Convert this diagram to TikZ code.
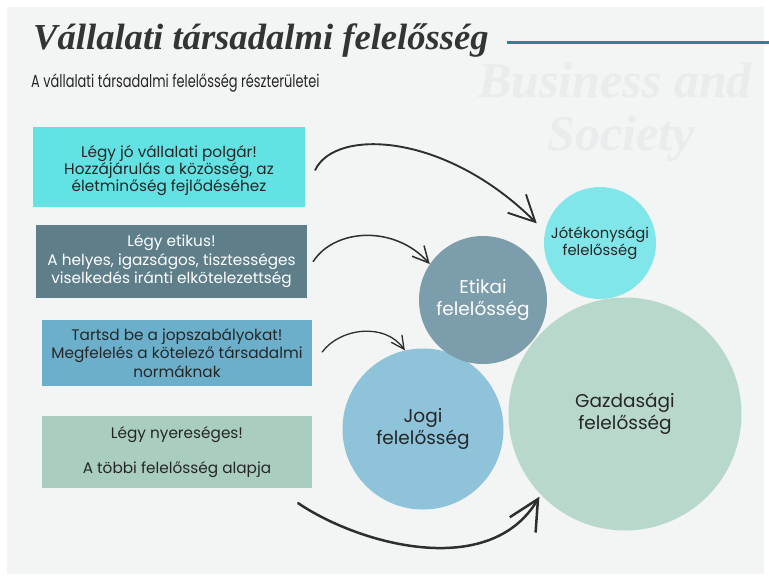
\documentclass[tikz,border=0pt]{standalone}
\usepackage{fontspec}
\setmainfont{Poppins}
\newfontfamily\headfont{Liberation Serif}
\newfontfamily\subtitlefont[FakeStretch=0.74]{Poppins}
\usetikzlibrary{arrows.meta}

\definecolor{paper}{HTML}{F3F4F4}
\definecolor{ink}{HTML}{262626}
\definecolor{headink}{HTML}{333435}
\definecolor{rulecol}{HTML}{3B7D8C}
\definecolor{ghost}{HTML}{E8ECEC}
\definecolor{arrowcol}{HTML}{2E2E2E}
\definecolor{cyanbox}{HTML}{63E2E4}
\definecolor{slatebox}{HTML}{5E7F8A}
\definecolor{bluebox}{HTML}{6BAFCB}
\definecolor{greenbox}{HTML}{A9CEBF}
\definecolor{cyancirc}{HTML}{80E6E9}
\definecolor{slatecirc}{HTML}{7C9DAB}
\definecolor{bluecirc}{HTML}{8EC3DA}
\definecolor{greencirc}{HTML}{B9D8CC}

\begin{document}
\begin{tikzpicture}[x=1pt,y=-1pt,
  boxshape/.style={rectangle, inner sep=0pt, minimum width=#1},
  boxtext/.style={align=center, inner sep=0pt, text=ink,
    font=\fontsize{15.3}{18.5}\selectfont},
  bubble/.style={circle, inner sep=0pt, align=center, text=ink,
    font=\fontsize{18.5}{22}\selectfont},
  curvearrow/.style={draw=arrowcol, line cap=round,
    -{Straight Barb[length=#1, width=#1]}},
]
\useasboundingbox (0,0) rectangle (769,582);
\fill[white] (0,0) rectangle (769,582);
\fill[paper] (7,7) rectangle (764,574);

% faint background lettering
\node[anchor=base west, inner sep=0pt, text=ghost,
  font=\headfont\bfseries\itshape\fontsize{50}{50}\selectfont]
  (bgA) at (478,97) {Business and};
\node[anchor=base west, inner sep=0pt, text=ghost,
  font=\headfont\bfseries\itshape\fontsize{50}{50}\selectfont]
  (bgB) at (547,150) {Society};

% heading
\node[anchor=base west, inner sep=0pt, text=headink,
  font=\headfont\bfseries\itshape\fontsize{36.6}{36}\selectfont]
  (title) at (33,49) {Vállalati társadalmi felelősség};
\coordinate (ruleA) at (507,42);
\coordinate (ruleB) at (769,42);
\draw[rulecol, line width=3pt] (ruleA) -- (ruleB);
\node[anchor=base west, inner sep=0pt, text=ink,
  font=\subtitlefont\fontsize{17.5}{19}\selectfont]
  (subtitle) at (31,87) {A vállalati társadalmi felelősség részterületei};

% left-hand boxes
\node[boxshape=272pt, minimum height=80pt, fill=cyanbox] (b1) at (169,167) {};
\node[boxtext, font=\fontsize{15.3}{17}\selectfont] (t1) at ([yshift=-4pt]b1.center)
  {Légy jó vállalati polgár!\\Hozzájárulás a közösség, az\\életminőség fejlődéséhez};

\node[boxshape=271pt, minimum height=73pt, fill=slatebox] (b2) at (171.5,261.5) {};
\node[boxtext, text=white] (t2) at (b2.center)
  {Légy etikus!\\A helyes, igazságos, tisztességes\\viselkedés iránti elkötelezettség};

\node[boxshape=270pt, minimum height=66pt, fill=bluebox] (b3) at (177,353) {};
\node[boxtext] (t3) at (b3.center)
  {Tartsd be a jopszabályokat!\\Megfelelés a kötelező társadalmi\\normáknak};

\node[boxshape=270pt, minimum height=72pt, fill=greenbox] (b4) at (177,452) {};
\node[boxtext] (t4) at (b4.center)
  {Légy nyereséges!\\[16pt]A többi felelősség alapja};

% responsibility circles
\node[bubble, fill=greencirc, minimum size=233pt] (gazd) at (625,414)
  {Gazdasági\\felelősség};
\node[bubble, fill=bluecirc, minimum size=161pt] (jogi) at (423,429)
  {Jogi\\felelősség};
\node[bubble, fill=slatecirc, minimum size=128pt, text=white] (etik) at (483,300)
  {Etikai\\felelősség};
\node[bubble, fill=cyancirc, minimum size=112pt,
  font=\fontsize{14.8}{17}\selectfont] (jot) at (600,243)
  {Jótékonysági\\felelősség};

% arrows from each box to its circle
\coordinate (s1) at ([xshift=10pt,yshift=-3pt]b1.east);
\coordinate (s2) at ([xshift=6pt]b2.east);
\coordinate (s3) at ([xshift=10pt,yshift=1pt]b3.east);
\coordinate (s4) at ([xshift=-14pt,yshift=-15pt]b4.south east);

\draw[curvearrow=26pt, line width=1.9pt, shorten >=-2pt]
  (s1) .. controls (335,128) and (445,132) .. ([shift={(162:68pt)}]jot.center);
\draw[curvearrow=16pt, line width=1.5pt]
  (s2) .. controls (335,228) and (395,225) .. (etik.146);
\draw[curvearrow=13pt, line width=1.3pt]
  (s3) .. controls (340,328) and (385,322) .. (jogi.103);
\draw[curvearrow=30pt, line width=2.5pt]
  (s4) .. controls (360,545) and (490,580) .. ([shift={(224:119pt)}]gazd.center);
\end{tikzpicture}
\end{document}
